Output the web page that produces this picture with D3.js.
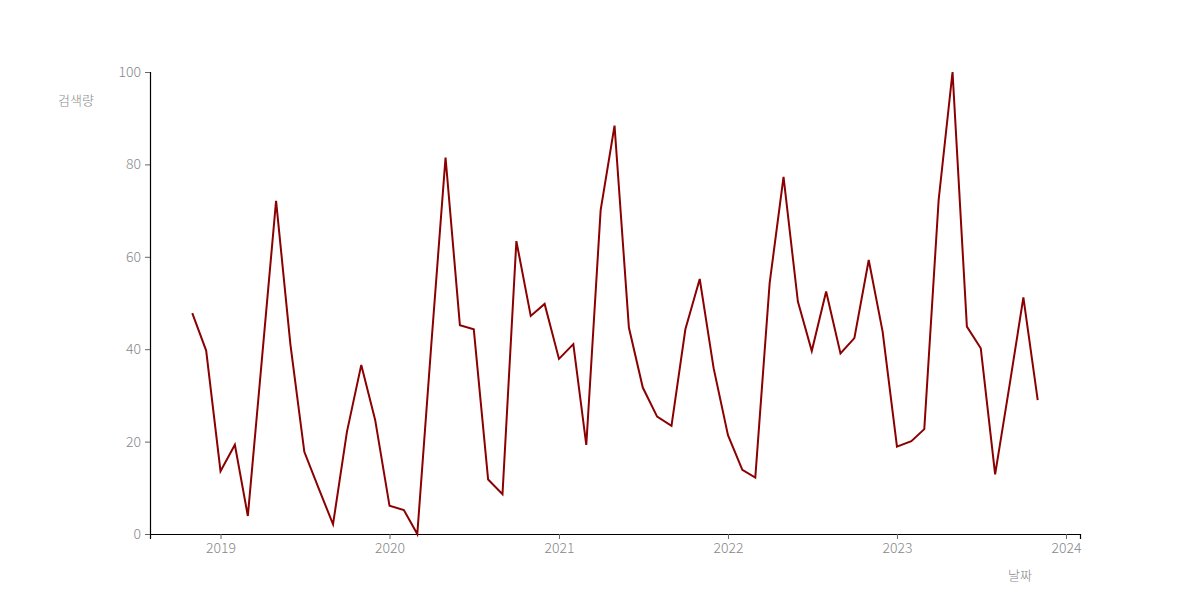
<!DOCTYPE html>
<html>
<head>
<meta charset="utf-8">
<script src="https://cdn.jsdelivr.net/npm/d3@7"></script>
<style>
    body { margin: 0; background: #fff; }
    text { font-family: 'Noto Sans CJK KR', 'Noto Sans', sans-serif; font-weight: 300; }
</style>
</head>
<body>
<script>
// monthly values, Nov 2018 .. Nov 2023
const startMonth = '2018-11'
const values = [
    47.8, 39.7,
    13.6, 19.3, 3.9, 38.5, 72.1, 41.0, 17.8, 9.9, 2.1, 22.1, 36.6, 24.7,
    6.1, 5.2, 0, 42.0, 81.5, 45.2, 44.3, 11.8, 8.6, 63.4, 47.2, 49.8,
    37.9, 41.1, 19.3, 70.1, 88.4, 44.7, 31.7, 25.4, 23.4, 44.3, 55.2, 35.9,
    21.4, 13.9, 12.2, 54.3, 77.3, 50.3, 39.6, 52.5, 39.1, 42.4, 59.3, 43.8,
    18.9, 20.1, 22.7, 72.3, 100, 44.9, 40.2, 12.9, 32.1, 51.2, 29.0
]
const yTicks = [0, 20, 40, 60, 80, 100]
const xTickYears = [2019, 2020, 2021, 2022, 2023, 2024]
const yTitle = '검색량'
const xTitle = '날짜'

const width = 1200
const height = 600
const margin = {top: 72, right: 120, bottom: 66, left: 150}
const font = "'Noto Sans CJK KR', 'Noto Sans', sans-serif"

const start = d3.timeParse('%Y-%m')(startMonth)
const data = values.map((v, i) => ({date: d3.timeMonth.offset(start, i), value: v}))

const svg = d3.select('body')
    .append('svg')
    .attr('width', width)
    .attr('height', height)

// pad the time domain by 5% on each side
const ext = d3.extent(data, d => d.date)
const span = ext[1] - ext[0]
const x = d3.scaleTime()
    .domain([new Date(+ext[0] - span * 0.05), new Date(+ext[1] + span * 0.05)])
    .range([margin.left, width - margin.right])

const y = d3.scaleLinear()
    .domain([0, 100])
    .range([height - margin.bottom, margin.top])

const xAxis = svg.append('g')
    .attr('transform', `translate(0,${height - margin.bottom})`)
    .call(d3.axisBottom(x)
        .tickValues(xTickYears.map(yr => new Date(yr, 0, 1)))
        .tickFormat(d3.timeFormat('%Y'))
        .tickSizeOuter(0)
        .tickSize(5)
        .tickPadding(4))

const yAxis = svg.append('g')
    .attr('transform', `translate(${margin.left},0)`)
    .call(d3.axisLeft(y)
        .tickValues(yTicks)
        .tickSizeOuter(0)
        .tickSize(5)
        .tickPadding(4))

for (const g of [xAxis, yAxis]) {
    g.select('.domain').attr('stroke', '#000').attr('stroke-width', 1.2)
    g.selectAll('.tick line').attr('stroke', '#666')
    g.selectAll('.tick text')
        .attr('fill', '#888')
        .style('font-size', '14px')
        .style('font-weight', 300)
        .style('font-family', font)
}

svg.append('path')
    .datum(data)
    .attr('fill', 'none')
    .attr('stroke', '#8b0000')
    .attr('stroke-width', 2)
    .attr('stroke-linejoin', 'miter')
    .attr('d', d3.line()
        .x(d => x(d.date))
        .y(d => y(d.value)))

svg.append('text')
    .attr('x', 76)
    .attr('y', 105)
    .attr('text-anchor', 'middle')
    .attr('fill', '#888')
    .style('font-size', '13px')
    .text(yTitle)

svg.append('text')
    .attr('x', 1020)
    .attr('y', 580)
    .attr('text-anchor', 'middle')
    .attr('fill', '#888')
    .style('font-size', '13px')
    .text(xTitle)
</script>
</body>
</html>
